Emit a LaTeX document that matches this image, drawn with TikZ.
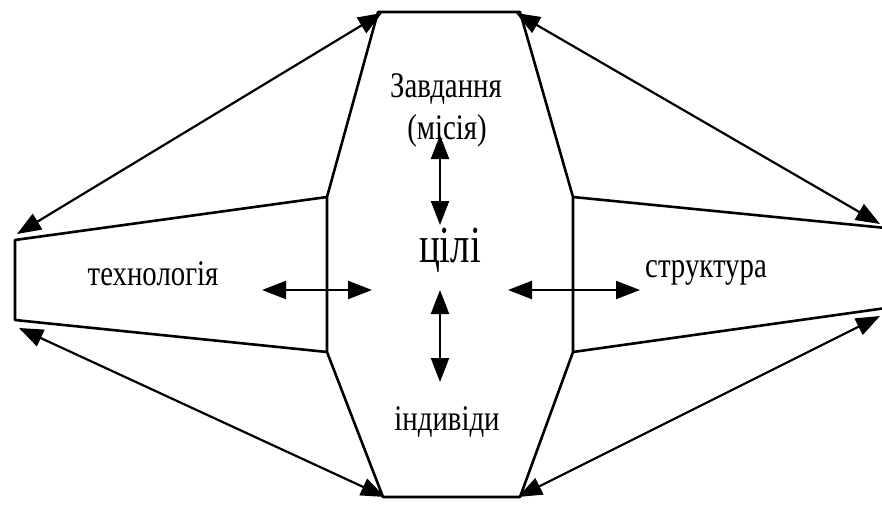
\documentclass[tikz,border=0pt]{standalone}
\usepackage{fontspec}
\setmainfont{Liberation Serif}
\usetikzlibrary{arrows.meta}
\newcommand\sqz[2]{\scalebox{#1}[1]{#2}}
\begin{document}
\begin{tikzpicture}[x=1pt,y=-1pt,
  edge/.style={line width=2.6pt,line join=round},
  dbl/.style={line width=2.2pt,{Triangle[length=24pt,width=18pt]}-{Triangle[length=24pt,width=18pt]}},
  lbl/.style={font=\fontsize{36}{40}\selectfont,inner sep=0pt,anchor=base}]
\useasboundingbox (0,0) rectangle (882,509);
% outline corners
\coordinate (A) at (378,12);
\coordinate (B) at (520,12);
\coordinate (C) at (327,197);
\coordinate (D) at (573,197);
\coordinate (E) at (573,352);
\coordinate (F) at (327,352);
\coordinate (G) at (383,497);
\coordinate (H) at (520,497);
\coordinate (L1) at (15,240);
\coordinate (L2) at (15,320);
\coordinate (R1) at (886,228);
\coordinate (R2) at (886,308);
% shapes
\draw[edge] (C) -- (A) -- (B) -- (D) -- (E) -- (H) -- (G) -- (F) -- cycle;
\draw[edge] (C) -- (L1) -- (L2) -- (F);
\draw[edge] (D) -- (R1);
\draw[edge] (E) -- (R2);
% diagonal arrows
\coordinate (a1) at (382,13);
\coordinate (b1) at (516,13);
\coordinate (l1) at (17,234);
\coordinate (l2) at (19,328);
\coordinate (r1) at (880,224);
\coordinate (r2) at (880,316);
\coordinate (g1) at (385,497);
\coordinate (h1) at (518,497);
\draw[dbl] (a1) -- (l1);
\draw[dbl] (b1) -- (r1);
\draw[dbl] (l2) -- (g1);
\draw[dbl] (r2) -- (h1);
% labels
\node[lbl] (zav) at (446,97) {\sqz{0.8}{Завдання}};
\node[lbl] (mis) at (447,139) {\sqz{0.8}{(місія)}};
\node[lbl,font=\fontsize{52}{56}\selectfont] (cili) at (450,262) {\sqz{0.75}{цілі}};
\node[lbl] (tech) at (153,285) {\sqz{0.8}{технологія}};
\node[lbl] (str) at (706,277) {\sqz{0.8}{структура}};
\node[lbl] (ind) at (447,430) {\sqz{0.8}{індивіди}};
% inner arrows
\coordinate (t1) at (440,135);
\coordinate (t2) at (440,225);
\coordinate (u1) at (440,290);
\coordinate (u2) at (440,382);
\coordinate (h1l) at (262,290);
\coordinate (h2l) at (372,290);
\coordinate (h1r) at (508,290);
\coordinate (h2r) at (640,290);
\draw[dbl] (t1) -- (t2);
\draw[dbl] (u1) -- (u2);
\draw[dbl] (h1l) -- (h2l);
\draw[dbl] (h1r) -- (h2r);
\end{tikzpicture}
\end{document}
